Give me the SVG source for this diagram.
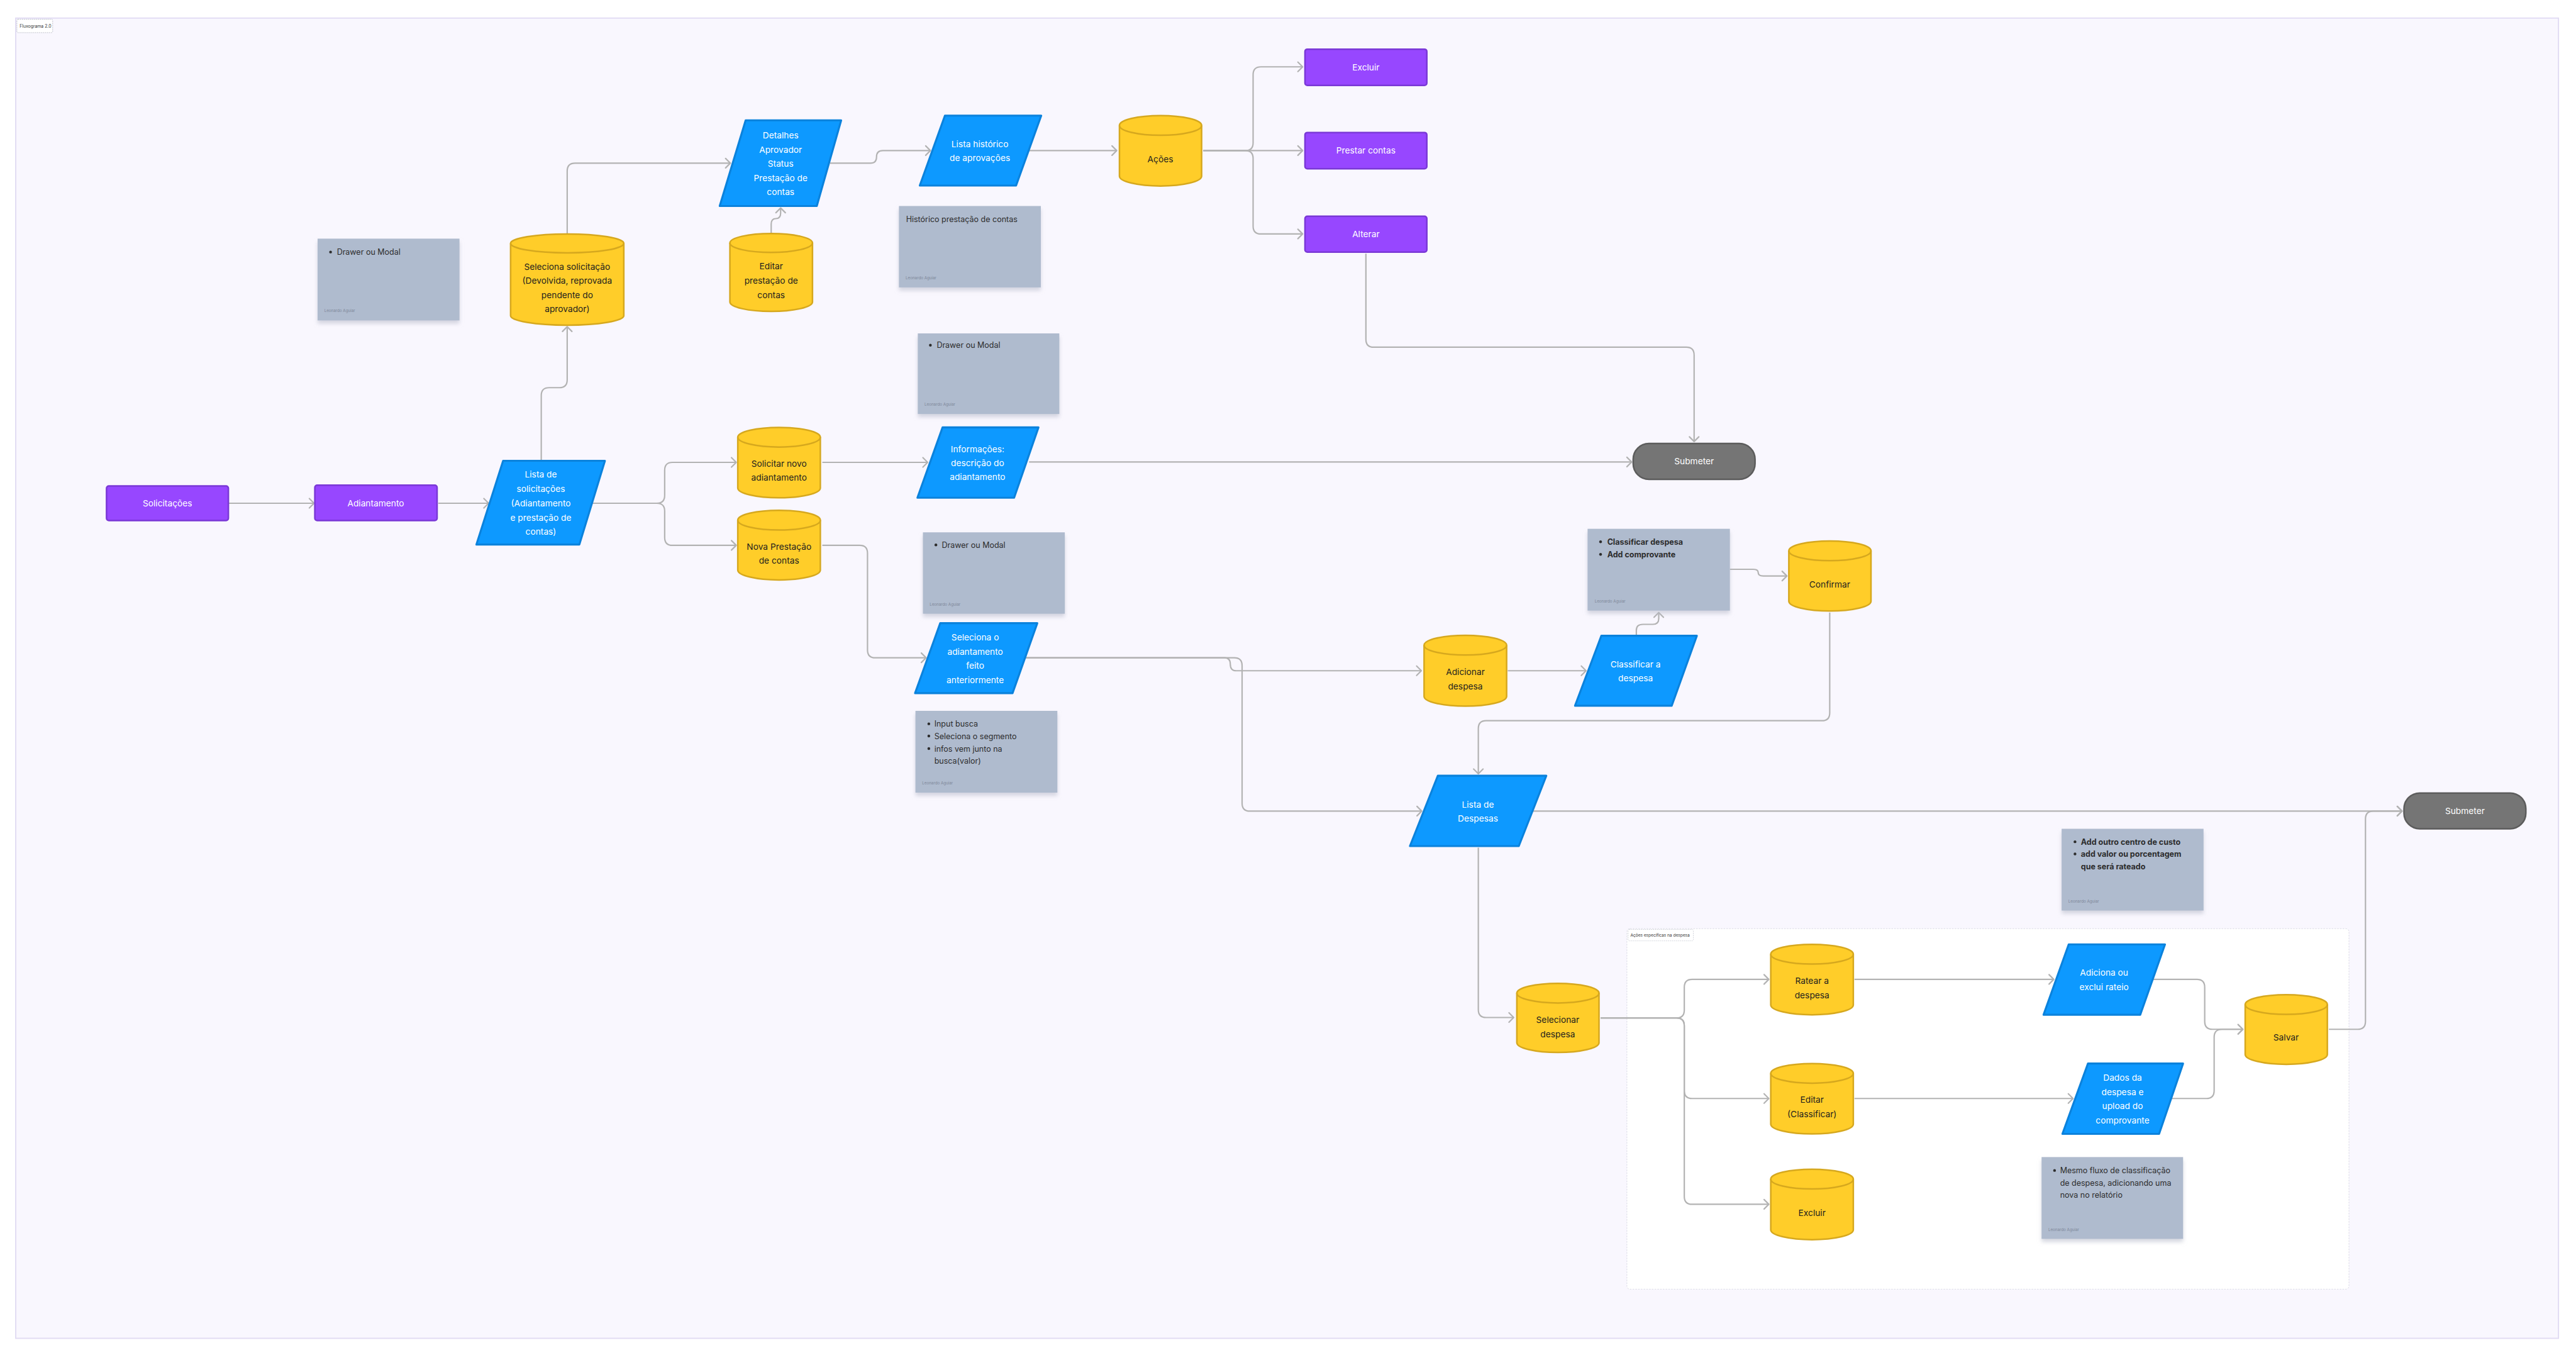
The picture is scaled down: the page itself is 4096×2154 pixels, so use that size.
<svg xmlns="http://www.w3.org/2000/svg" width="4096" height="2154" viewBox="0 0 4096 2154">
<style>
.t{font-family:Inter,"Liberation Sans",sans-serif;font-size:22px;text-anchor:middle;dominant-baseline:central}
.w{fill:#ffffff}
.d{fill:#1e1e1e}
.n{font-family:Inter,"Liberation Sans",sans-serif;font-size:20px;fill:#2c2c2c;dominant-baseline:central}
.nb{font-weight:bold}
.la{font-family:Inter,"Liberation Sans",sans-serif;font-size:10px;fill:#7e8799;dominant-baseline:central}
.cyl{fill:#ffcd29;stroke:#d6a81e;stroke-width:4}
.cyt{fill:none;stroke:#d6a81e;stroke-width:4}
.par{fill:#0d99ff;stroke:#0b82dc;stroke-width:5;stroke-linejoin:round}
.pur{fill:#9747ff;stroke:#7a38d6;stroke-width:4}
.sub{fill:#757575;stroke:#5c5c5c;stroke-width:4}
.note{fill:#afbbce;filter:url(#sh)}
.c{fill:none;stroke:#b3b3b3;stroke-width:3.5;marker-end:url(#a)}
</style>
<defs>
<marker id="a" markerUnits="userSpaceOnUse" markerWidth="24" markerHeight="32" refX="16" refY="16" orient="auto">
<path d="M4,4 L16,16 L4,28" fill="none" stroke="#b3b3b3" stroke-width="3.5" stroke-linecap="round" stroke-linejoin="round"/>
</marker>
<filter id="sh" x="-10%" y="-10%" width="120%" height="130%">
<feDropShadow dx="0" dy="8" stdDeviation="5" flood-color="#b4b8c8" flood-opacity="0.55"/>
</filter>
</defs>
<rect width="4096" height="2154" fill="#ffffff"/>
<g transform="scale(0.625)">
<g id="frame">
<rect x="40" y="46" width="6469" height="3358" fill="#f9f7fe" stroke="#e1dbf3" stroke-width="3"/>
<rect x="43" y="49" width="91" height="34" rx="3" fill="#ffffff" stroke="#b9bcc6" stroke-width="1.5" stroke-dasharray="3 2"/>
<text x="50" y="66" font-family="Inter,'Liberation Sans',sans-serif" font-size="11" fill="#333" dominant-baseline="central">Fluxograma 2.0</text>
</g>
<g id="group-acoes">
<rect x="4139" y="2362" width="1837" height="917" rx="8" fill="#ffffff" stroke="#d9d9e3" stroke-width="1.5" stroke-dasharray="4 3"/>
<rect x="4142" y="2364" width="166" height="29" rx="3" fill="#ffffff" stroke="#c5c8d2" stroke-width="1.2" stroke-dasharray="3 2"/>
<text x="4148" y="2379" font-family="Inter,'Liberation Sans',sans-serif" font-size="10.5" fill="#333" dominant-baseline="central">Ações específicas na despesa</text>
</g>

<g id="connectors">
<path class="c" d="M581,1280 H799"/>
<path class="c" d="M1115,1280 H1243"/>
<path class="c" d="M1377,1172 V1006 Q1377,986 1397,986 H1423 Q1443,986 1443,966 V831"/>
<path class="c" d="M1506,1280 H1671 Q1691,1280 1691,1260 V1196 Q1691,1176 1711,1176 H1873"/>
<path class="c" d="M1506,1280 H1671 Q1691,1280 1691,1300 V1367 Q1691,1387 1711,1387 H1873"/>
<path class="c" d="M1443,595 V435 Q1443,415 1463,415 H1858"/>
<path class="c" d="M1962,592 V570 Q1962,556 1974,556 Q1986,556 1986,542 V529"/>
<path class="c" d="M2112,415 H2215 Q2230,415 2230,399 Q2230,383 2246,383 H2367"/>
<path class="c" d="M2617,383 H2841"/>
<path class="c" d="M3061,383 H3168 Q3188,383 3188,363 V190 Q3188,170 3208,170 H3314"/>
<path class="c" d="M3061,383 H3314"/>
<path class="c" d="M3061,383 H3168 Q3188,383 3188,403 V575 Q3188,595 3208,595 H3314"/>
<path class="c" d="M3475,645 V863 Q3475,883 3495,883 H4290 Q4310,883 4310,903 V1123"/>
<path class="c" d="M2092,1176 H2360"/>
<path class="c" d="M2618,1175 H4151"/>
<path class="c" d="M2092,1387 H2187 Q2207,1387 2207,1407 V1653 Q2207,1673 2227,1673 H2356"/>
<path class="c" d="M2609,1673 H3115 Q3130,1673 3130,1689 Q3130,1706 3145,1706 H3616"/>
<path class="c" d="M2609,1673 H3140 Q3160,1673 3160,1693 V2043 Q3160,2063 3180,2063 H3617"/>
<path class="c" d="M3836,1706 H4035"/>
<path class="c" d="M4163,1617 V1603 Q4163,1588 4180,1588 H4205 Q4220,1588 4220,1573 V1558"/>
<path class="c" d="M4401,1448 H4460 Q4473,1448 4473,1456 Q4473,1465 4486,1465 H4546"/>
<path class="c" d="M4655,1558 V1813 Q4655,1833 4635,1833 H3781 Q3761,1833 3761,1853 V1968"/>
<path class="c" d="M3899,2063 H6111"/>
<path class="c" d="M3761,2156 V2568 Q3761,2588 3781,2588 H3851"/>
<path class="c" d="M4072,2589 H4265 Q4285,2589 4285,2569 V2511 Q4285,2491 4305,2491 H4500"/>
<path class="c" d="M4072,2589 H4265 Q4285,2589 4285,2609 V2774 Q4285,2794 4305,2794 H4500"/>
<path class="c" d="M4072,2589 H4265 Q4285,2589 4285,2609 V3043 Q4285,3063 4305,3063 H4500"/>
<path class="c" d="M4718,2491 H5225"/>
<path class="c" d="M4718,2794 H5274"/>
<path class="c" d="M5476,2491 H5589 Q5609,2491 5609,2511 V2598 Q5609,2618 5629,2618 H5706"/>
<path class="c" d="M5523,2794 H5613 Q5633,2794 5633,2774 V2638 Q5633,2618 5653,2618 H5706"/>
<path class="c" d="M5925,2618 H5998 Q6018,2618 6018,2598 V2083 Q6018,2063 6038,2063 H6111"/>
</g>

<g id="note-drawer1">
<rect class="note" x="808" y="607" width="361" height="208"/>
<circle cx="841" cy="641" r="3.5" fill="#2c2c2c"/>
<text class="n" x="857" y="641">Drawer ou Modal</text>
<text class="la" x="825" y="791">Leonardo Aguiar</text>
</g>
<g id="note-historico">
<rect class="note" x="2287" y="524" width="361" height="207"/>
<text class="n" x="2305" y="557">Histórico prestação de contas</text>
<text class="la" x="2304" y="707">Leonardo Aguiar</text>
</g>
<g id="note-drawer2">
<rect class="note" x="2335" y="848" width="360" height="205"/>
<circle cx="2367" cy="878" r="3.5" fill="#2c2c2c"/>
<text class="n" x="2383" y="878">Drawer ou Modal</text>
<text class="la" x="2352" y="1029">Leonardo Aguiar</text>
</g>
<g id="note-drawer3">
<rect class="note" x="2348" y="1354" width="361" height="207"/>
<circle cx="2381" cy="1386" r="3.5" fill="#2c2c2c"/>
<text class="n" x="2396" y="1386">Drawer ou Modal</text>
<text class="la" x="2365" y="1537">Leonardo Aguiar</text>
</g>
<g id="note-busca">
<rect class="note" x="2329" y="1808" width="361" height="208"/>
<circle cx="2363" cy="1841" r="3.5" fill="#2c2c2c"/>
<circle cx="2363" cy="1872" r="3.5" fill="#2c2c2c"/>
<circle cx="2363" cy="1904" r="3.5" fill="#2c2c2c"/>
<text class="n" x="2377" y="1841">Input busca</text>
<text class="n" x="2377" y="1872">Seleciona o segmento</text>
<text class="n" x="2377" y="1904">infos vem junto na</text>
<text class="n" x="2377" y="1935">busca(valor)</text>
<text class="la" x="2346" y="1992">Leonardo Aguiar</text>
</g>
<g id="note-classificar">
<rect class="note" x="4039" y="1345" width="362" height="208"/>
<circle cx="4072" cy="1378" r="3.5" fill="#2c2c2c"/>
<circle cx="4072" cy="1410" r="3.5" fill="#2c2c2c"/>
<text class="n nb" x="4089" y="1378">Classificar despesa</text>
<text class="n nb" x="4089" y="1410">Add comprovante</text>
<text class="la" x="4057" y="1530">Leonardo Aguiar</text>
</g>
<g id="note-rateio">
<rect class="note" x="5245" y="2108" width="361" height="208"/>
<circle cx="5279" cy="2141" r="3.5" fill="#2c2c2c"/>
<circle cx="5279" cy="2172" r="3.5" fill="#2c2c2c"/>
<text class="n nb" x="5294" y="2141">Add outro centro de custo</text>
<text class="n nb" x="5294" y="2172">add valor ou porcentagem</text>
<text class="n nb" x="5294" y="2204">que será rateado</text>
<text class="la" x="5262" y="2292">Leonardo Aguiar</text>
</g>
<g id="note-mesmo">
<rect class="note" x="5194" y="2943" width="360" height="208"/>
<circle cx="5227" cy="2977" r="3.5" fill="#2c2c2c"/>
<text class="n" x="5241" y="2977">Mesmo fluxo de classificação</text>
<text class="n" x="5241" y="3008">de despesa, adicionando uma</text>
<text class="n" x="5241" y="3039">nova no relatório</text>
<text class="la" x="5211" y="3128">Leonardo Aguiar</text>
</g>

<g id="n-solicitacoes">
<rect class="pur" x="271" y="1236" width="310" height="88" rx="6"/>
<text class="t w" x="426" y="1280">Solicitações</text>
</g>
<g id="n-adiantamento">
<rect class="pur" x="801" y="1234" width="311" height="90" rx="6"/>
<text class="t w" x="956" y="1280">Adiantamento</text>
</g>
<g id="n-lista-solicitacoes">
<path class="par" d="M1280,1172 L1539,1172 L1474,1385 L1212,1385 Z"/>
<text class="t w" x="1376" y="1207">Lista de</text>
<text class="t w" x="1376" y="1243">solicitações</text>
<text class="t w" x="1376" y="1280">(Adiantamento</text>
<text class="t w" x="1376" y="1316">e prestação de</text>
<text class="t w" x="1376" y="1352">contas)</text>
</g>
<g id="n-seleciona-solicitacao">
<path class="cyl" d="M1299,619 A144,24 0 0 1 1587,619 V803 A144,24 0 0 1 1299,803 Z"/>
<path class="cyt" d="M1299,619 A144,24 0 0 0 1587,619"/>
<text class="t d" x="1443" y="678">Seleciona solicitação</text>
<text class="t d" x="1443" y="714">(Devolvida, reprovada</text>
<text class="t d" x="1443" y="750">pendente do</text>
<text class="t d" x="1443" y="786">aprovador)</text>
</g>
<g id="n-detalhes">
<path class="par" d="M1897,306 L2140,306 L2078,524 L1831,524 Z"/>
<text class="t w" x="1986" y="344">Detalhes</text>
<text class="t w" x="1986" y="380">Aprovador</text>
<text class="t w" x="1986" y="416">Status</text>
<text class="t w" x="1986" y="452">Prestação de</text>
<text class="t w" x="1986" y="488">contas</text>
</g>
<g id="n-editar-prestacao">
<path class="cyl" d="M1857,618 A105,24 0 0 1 2067,618 V768 A105,24 0 0 1 1857,768 Z"/>
<path class="cyt" d="M1857,618 A105,24 0 0 0 2067,618"/>
<text class="t d" x="1962" y="677">Editar</text>
<text class="t d" x="1962" y="713">prestação de</text>
<text class="t d" x="1962" y="750">contas</text>
</g>
<g id="n-lista-historico">
<path class="par" d="M2404,294 L2649,294 L2585,472 L2340,472 Z"/>
<text class="t w" x="2493" y="366">Lista histórico</text>
<text class="t w" x="2493" y="402">de aprovações</text>
</g>
<g id="n-acoes">
<path class="cyl" d="M2848,319 A104.5,25 0 0 1 3057,319 V448 A104.5,25 0 0 1 2848,448 Z"/>
<path class="cyt" d="M2848,319 A104.5,25 0 0 0 3057,319"/>
<text class="t d" x="2952" y="404">Ações</text>
</g>
<g id="n-excluir">
<rect class="pur" x="3320" y="125" width="310" height="92" rx="6"/>
<text class="t w" x="3475" y="171">Excluir</text>
</g>
<g id="n-prestar">
<rect class="pur" x="3320" y="337" width="310" height="92" rx="6"/>
<text class="t w" x="3475" y="383">Prestar contas</text>
</g>
<g id="n-alterar">
<rect class="pur" x="3320" y="550" width="310" height="91" rx="6"/>
<text class="t w" x="3475" y="595">Alterar</text>
</g>
<g id="n-submeter1">
<rect class="sub" x="4155" y="1128" width="310" height="91" rx="40"/>
<text class="t w" x="4310" y="1173">Submeter</text>
</g>
<g id="n-solicitar-novo">
<path class="cyl" d="M1877,1112 A105,25 0 0 1 2087,1112 V1241 A105,25 0 0 1 1877,1241 Z"/>
<path class="cyt" d="M1877,1112 A105,25 0 0 0 2087,1112"/>
<text class="t d" x="1982" y="1179">Solicitar novo</text>
<text class="t d" x="1982" y="1215">adiantamento</text>
</g>
<g id="n-nova-prestacao">
<path class="cyl" d="M1877,1323 A105,25 0 0 1 2087,1323 V1450 A105,25 0 0 1 1877,1450 Z"/>
<path class="cyt" d="M1877,1323 A105,25 0 0 0 2087,1323"/>
<text class="t d" x="1982" y="1390">Nova Prestação</text>
<text class="t d" x="1982" y="1426">de contas</text>
</g>
<g id="n-informacoes">
<path class="par" d="M2398,1087 L2642,1087 L2580,1266 L2334,1266 Z"/>
<text class="t w" x="2487" y="1142">Informações:</text>
<text class="t w" x="2487" y="1177">descrição do</text>
<text class="t w" x="2487" y="1213">adiantamento</text>
</g>
<g id="n-seleciona-adiantamento">
<path class="par" d="M2392,1585 L2639,1585 L2576,1763 L2328,1763 Z"/>
<text class="t w" x="2481" y="1621">Seleciona o</text>
<text class="t w" x="2481" y="1657">adiantamento</text>
<text class="t w" x="2481" y="1693">feito</text>
<text class="t w" x="2481" y="1729">anteriormente</text>
</g>
<g id="n-adicionar-despesa">
<path class="cyl" d="M3623,1641 A105,25 0 0 1 3833,1641 V1771 A105,25 0 0 1 3623,1771 Z"/>
<path class="cyt" d="M3623,1641 A105,25 0 0 0 3833,1641"/>
<text class="t d" x="3728" y="1709">Adicionar</text>
<text class="t d" x="3728" y="1745">despesa</text>
</g>
<g id="n-classificar">
<path class="par" d="M4074,1617 L4317,1617 L4253,1795 L4007,1795 Z"/>
<text class="t w" x="4161" y="1689">Classificar a</text>
<text class="t w" x="4161" y="1725">despesa</text>
</g>
<g id="n-confirmar">
<path class="cyl" d="M4551,1401 A104.5,25 0 0 1 4760,1401 V1529 A104.5,25 0 0 1 4551,1529 Z"/>
<path class="cyt" d="M4551,1401 A104.5,25 0 0 0 4760,1401"/>
<text class="t d" x="4655" y="1486">Confirmar</text>
</g>
<g id="n-lista-despesas">
<path class="par" d="M3658,1973 L3934,1973 L3864,2152 L3587,2152 Z"/>
<text class="t w" x="3760" y="2046">Lista de</text>
<text class="t w" x="3760" y="2082">Despesas</text>
</g>
<g id="n-submeter2">
<rect class="sub" x="6116" y="2017" width="310" height="91" rx="40"/>
<text class="t w" x="6271" y="2063">Submeter</text>
</g>
<g id="n-selecionar-despesa">
<path class="cyl" d="M3859,2526 A104.5,25 0 0 1 4068,2526 V2652 A104.5,25 0 0 1 3859,2652 Z"/>
<path class="cyt" d="M3859,2526 A104.5,25 0 0 0 4068,2526"/>
<text class="t d" x="3963" y="2594">Selecionar</text>
<text class="t d" x="3963" y="2630">despesa</text>
</g>
<g id="n-ratear">
<path class="cyl" d="M4505,2427 A105,25 0 0 1 4715,2427 V2556 A105,25 0 0 1 4505,2556 Z"/>
<path class="cyt" d="M4505,2427 A105,25 0 0 0 4715,2427"/>
<text class="t d" x="4610" y="2495">Ratear a</text>
<text class="t d" x="4610" y="2531">despesa</text>
</g>
<g id="n-editar-classificar">
<path class="cyl" d="M4505,2730 A105,25 0 0 1 4715,2730 V2859 A105,25 0 0 1 4505,2859 Z"/>
<path class="cyt" d="M4505,2730 A105,25 0 0 0 4715,2730"/>
<text class="t d" x="4610" y="2797">Editar</text>
<text class="t d" x="4610" y="2834">(Classificar)</text>
</g>
<g id="n-excluir-despesa">
<path class="cyl" d="M4505,2999 A105,25 0 0 1 4715,2999 V3128 A105,25 0 0 1 4505,3128 Z"/>
<path class="cyt" d="M4505,2999 A105,25 0 0 0 4715,2999"/>
<text class="t d" x="4610" y="3084">Excluir</text>
</g>
<g id="n-adiciona-rateio">
<path class="par" d="M5263,2402 L5508,2402 L5445,2581 L5199,2581 Z"/>
<text class="t w" x="5353" y="2474">Adiciona ou</text>
<text class="t w" x="5353" y="2510">exclui rateio</text>
</g>
<g id="n-dados-despesa">
<path class="par" d="M5312,2705 L5554,2705 L5493,2884 L5247,2884 Z"/>
<text class="t w" x="5400" y="2741">Dados da</text>
<text class="t w" x="5400" y="2777">despesa e</text>
<text class="t w" x="5400" y="2813">upload do</text>
<text class="t w" x="5400" y="2850">comprovante</text>
</g>
<g id="n-salvar">
<path class="cyl" d="M5712,2555 A104.5,25 0 0 1 5921,2555 V2682 A104.5,25 0 0 1 5712,2682 Z"/>
<path class="cyt" d="M5712,2555 A104.5,25 0 0 0 5921,2555"/>
<text class="t d" x="5816" y="2639">Salvar</text>
</g>
</g>
</svg>
